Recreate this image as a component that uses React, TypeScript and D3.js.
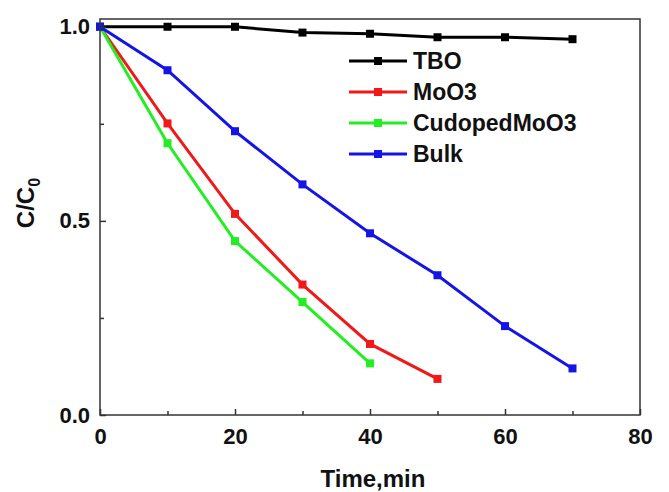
import React, { useEffect, useRef } from 'react';
import * as d3 from 'd3';

// Data
const times = [0, 10, 20, 30, 40, 50, 60, 70];
const tbo = [1.0, 1.0, 1.0, 0.985, 0.982, 0.973, 0.973, 0.968];
const moo3 = [1.0, 0.751, 0.518, 0.336, 0.183, 0.093];
const cudoped = [1.0, 0.70, 0.448, 0.291, 0.133];
const bulk = [1.0, 0.888, 0.731, 0.594, 0.468, 0.36, 0.229, 0.12];

const seriesNames = ['TBO', 'MoO3', 'CudopedMoO3', 'Bulk'];
const seriesColors = ['#000000', '#f01818', '#22ee22', '#1414e6'];
const seriesValues = [tbo, moo3, cudoped, bulk];

const xTicks = [0, 20, 40, 60, 80];
const xMinor = [10, 30, 50, 70];
const yTicks = [0, 0.5, 1.0];
const yMinor = [0.25, 0.75];

const App = () => {
  const svgRef = useRef<SVGSVGElement>(null);

  useEffect(() => {
    const width = 669;
    const height = 492;
    const margin = { top: 19, right: 29, bottom: 77, left: 100 };
    const font = 'Liberation Sans, Arial, sans-serif';

    const svg = d3.select(svgRef.current);
    svg.selectAll('*').remove();
    svg.attr('width', width).attr('height', height);

    const x = d3.scaleLinear().domain([0, 80]).range([margin.left, width - margin.right]);
    const y = d3.scaleLinear().domain([0, 1.02]).range([height - margin.bottom, margin.top]);

    const series = seriesNames.map((name, i) => ({
      name,
      color: seriesColors[i],
      points: seriesValues[i].map((v, j) => ({ t: times[j], v })),
    }));

    // Lines
    const line = d3
      .line<{ t: number; v: number }>()
      .x((d) => x(d.t))
      .y((d) => y(d.v));

    series.forEach((s) => {
      svg
        .append('path')
        .datum(s.points)
        .attr('fill', 'none')
        .attr('stroke', s.color)
        .attr('stroke-width', 3)
        .attr('d', line);
      svg
        .selectAll(null)
        .data(s.points)
        .enter()
        .append('rect')
        .attr('x', (d) => x(d.t) - 4)
        .attr('y', (d) => y(d.v) - 4)
        .attr('width', 8)
        .attr('height', 8)
        .attr('fill', s.color);
    });

    // Frame
    svg
      .append('rect')
      .attr('x', margin.left)
      .attr('y', margin.top)
      .attr('width', width - margin.left - margin.right)
      .attr('height', height - margin.top - margin.bottom)
      .attr('fill', 'none')
      .attr('stroke', '#333')
      .attr('stroke-width', 1.5);

    // X axis
    const xAxis = svg
      .append('g')
      .attr('transform', `translate(0,${height - margin.bottom})`)
      .call(d3.axisBottom(x).tickValues(xTicks).tickSizeInner(-6).tickSizeOuter(0).tickPadding(13).tickFormat(d3.format('d')));
    xAxis.select('.domain').remove();
    xAxis.selectAll('line').attr('stroke', '#333').attr('stroke-width', 1.5);
    xAxis.selectAll('text').attr('font-family', font).attr('font-size', 22).attr('font-weight', 'bold').attr('fill', '#111');
    svg
      .append('g')
      .attr('transform', `translate(0,${height - margin.bottom})`)
      .call(d3.axisBottom(x).tickValues(xMinor).tickSizeInner(-4).tickSizeOuter(0).tickFormat(() => ''))
      .call((g) => g.select('.domain').remove())
      .selectAll('line')
      .attr('stroke', '#333')
      .attr('stroke-width', 1.5);

    // Y axis
    const yAxis = svg
      .append('g')
      .attr('transform', `translate(${margin.left},0)`)
      .call(d3.axisLeft(y).tickValues(yTicks).tickSizeInner(-6).tickSizeOuter(0).tickPadding(10).tickFormat(d3.format('.1f')));
    yAxis.select('.domain').remove();
    yAxis.selectAll('line').attr('stroke', '#333').attr('stroke-width', 1.5);
    yAxis.selectAll('text').attr('font-family', font).attr('font-size', 22).attr('font-weight', 'bold').attr('fill', '#111');
    svg
      .append('g')
      .attr('transform', `translate(${margin.left},0)`)
      .call(d3.axisLeft(y).tickValues(yMinor).tickSizeInner(-4).tickSizeOuter(0).tickFormat(() => ''))
      .call((g) => g.select('.domain').remove())
      .selectAll('line')
      .attr('stroke', '#333')
      .attr('stroke-width', 1.5);

    // Axis titles
    svg
      .append('text')
      .attr('x', 373)
      .attr('y', 487)
      .attr('text-anchor', 'middle')
      .attr('font-family', font)
      .attr('font-size', 24)
      .attr('font-weight', 'bold')
      .attr('fill', '#111')
      .text('Time,min');

    const yTitle = svg
      .append('text')
      .attr('transform', 'translate(34,203) rotate(-90)')
      .attr('text-anchor', 'middle')
      .attr('font-family', font)
      .attr('font-size', 24)
      .attr('font-weight', 'bold')
      .attr('fill', '#111');
    yTitle.append('tspan').text('C/C');
    yTitle.append('tspan').attr('font-size', 16).attr('dy', 6).text('0');

    // Legend
    const legend = svg.append('g').attr('transform', 'translate(349,61)');
    series.forEach((s, i) => {
      const row = legend.append('g').attr('transform', `translate(0,${i * 31})`);
      row.append('line').attr('x1', 0).attr('x2', 58).attr('y1', 0).attr('y2', 0).attr('stroke', s.color).attr('stroke-width', 3);
      row.append('rect').attr('x', 25).attr('y', -4).attr('width', 8).attr('height', 8).attr('fill', s.color);
      row
        .append('text')
        .attr('x', 64)
        .attr('y', 8)
        .attr('font-family', font)
        .attr('font-size', 23)
        .attr('font-weight', 'bold')
        .attr('fill', '#111')
        .text(s.name);
    });
  }, []);

  return (
    <div style={{ position: 'absolute', left: 0, top: 0 }}>
      <svg ref={svgRef}></svg>
    </div>
  );
};

export default App;
